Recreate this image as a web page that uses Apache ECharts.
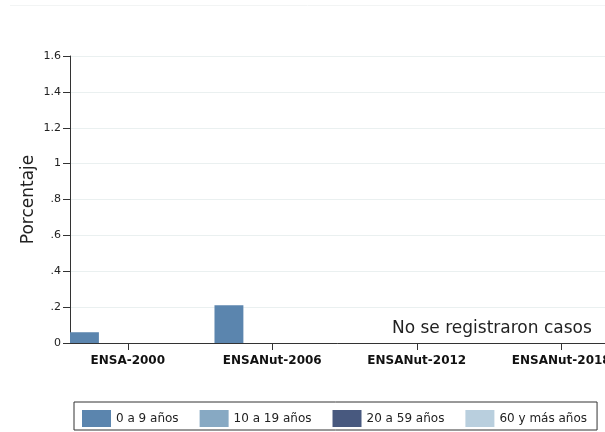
<!DOCTYPE html>
<html>
<head>
<meta charset="utf-8">
<script src="https://cdn.jsdelivr.net/npm/echarts@6/dist/echarts.min.js"></script>
<style>
  html, body { margin: 0; padding: 0; background: #fff; }
  #chart { width: 605px; height: 432px; }
</style>
</head>
<body>
<div id="chart"></div>
<script>
// --- datos ---
const categories = ['ENSA-2000', 'ENSANut-2006', 'ENSANut-2012', 'ENSANut-2018']
const seriesNames = ['0 a 9 años', '10 a 19 años', '20 a 59 años', '60 y más años']
const edad0a9 = [0.06, 0.21, 0, 0]
const edad10a19 = [0, 0, 0, 0]
const edad20a59 = [0, 0, 0, 0]
const edad60mas = [0, 0, 0, 0]
const notaTexto = 'No se registraron casos'

const colors = ['#5b85ae', '#87a9c3', '#48597f', '#b9cfde']
const fontFamily = '"DejaVu Sans", sans-serif'

const chart = echarts.init(document.getElementById('chart'))

// etiquetas estilo Stata: .2 .4 ... 1 1.2
const fmtY = v => {
  const r = +v.toFixed(1)
  if (r === 0) return '0'
  if (r < 1) return String(r).replace('0.', '.')
  return String(r)
}

const allValues = [edad0a9, edad10a19, edad20a59, edad60mas]

const series = allValues.map((vals, s) => ({
  name: seriesNames[s],
  type: 'bar',
  barGap: '0%',
  barCategoryGap: '20%',
  data: categories.map((c, i) => [i, vals[i]]),
  itemStyle: { color: colors[s], borderWidth: 0 },
  emphasis: { disabled: true }
}))

// nota de texto (serie auxiliar sin datos, para no heredar el desplazamiento de las barras)
series.push({
  name: 'nota',
  type: 'line',
  data: [],
  silent: true,
  markPoint: {
    symbol: 'rect',
    symbolSize: 0,
    silent: true,
    label: {
      show: true,
      formatter: notaTexto,
      color: '#222',
      fontSize: 17,
      fontFamily: fontFamily
    },
    data: [{ coord: [2.52, 0.078] }]
  }
})

const option = {
  animation: false,
  color: colors,
  grid: {
    left: 70, width: 563.5, top: 56, bottom: 89,
    containLabel: false, outerBoundsMode: 'none'
  },
  // borde tenue del área del gráfico
  graphic: [{
    type: 'line',
    silent: true,
    shape: { x1: 10, y1: 5.5, x2: 605, y2: 5.5 },
    style: { stroke: '#f2f4f4', lineWidth: 1 }
  }],
  xAxis: {
    type: 'value',
    min: -0.4,
    max: 3.5,
    axisLine: { show: true, onZero: false, lineStyle: { color: '#333', width: 1 } },
    axisTick: { show: true, length: 7, customValues: [0, 1, 2, 3], lineStyle: { color: '#333' } },
    splitLine: { show: false },
    axisLabel: {
      customValues: [0, 1, 2, 3],
      formatter: v => categories[Math.round(v)] || '',
      color: '#111',
      fontWeight: 'bold',
      fontSize: 12,
      fontFamily: fontFamily,
      margin: 12
    }
  },
  yAxis: {
    type: 'value',
    min: 0,
    max: 1.6,
    interval: 0.2,
    name: 'Porcentaje',
    nameLocation: 'middle',
    nameGap: 33,
    nameMoveOverlap: false,
    nameTextStyle: { color: '#222', fontSize: 17, fontFamily: fontFamily },
    axisLine: { show: true, onZero: false, lineStyle: { color: '#333', width: 1 } },
    axisTick: { show: true, length: 7, lineStyle: { color: '#333' } },
    splitLine: { show: true, lineStyle: { color: '#eaf0f0', width: 1 } },
    axisLabel: {
      formatter: fmtY,
      color: '#222',
      fontSize: 11,
      fontFamily: fontFamily,
      margin: 9
    }
  },
  legend: {
    data: seriesNames,
    left: 74,
    top: 402,
    orient: 'horizontal',
    icon: 'rect',
    itemWidth: 29,
    itemHeight: 17,
    itemGap: 21,
    padding: [8, 10, 3, 8],
    borderColor: '#333',
    borderWidth: 1,
    selectedMode: false,
    textStyle: { color: '#222', fontSize: 12, fontFamily: fontFamily },
    itemStyle: { borderWidth: 0 }
  },
  series: series
}

chart.setOption(option)
</script>
</body>
</html>
